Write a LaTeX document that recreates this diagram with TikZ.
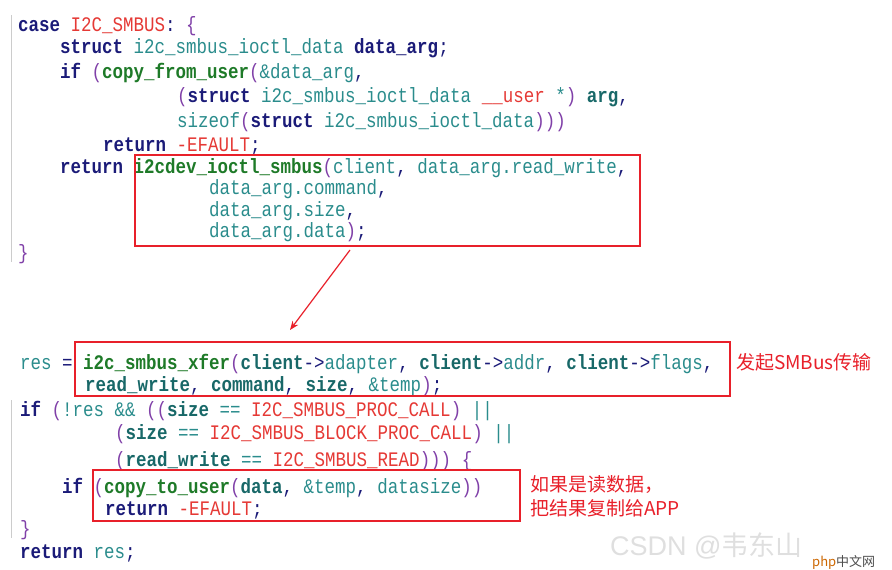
\documentclass[tikz,border=0pt]{standalone}
\usepackage{fontspec}
\usepackage{graphicx}
\usetikzlibrary{arrows.meta}
\setmonofont{Liberation Mono}
\newfontfamily\cjk{Noto Sans CJK SC}
\definecolor{kwc}{HTML}{1B1B78}
\definecolor{fnc}{HTML}{1E7A28}
\definecolor{idc}{HTML}{2A8C8C}
\definecolor{vbc}{HTML}{186868}
\definecolor{mcc}{HTML}{E53935}
\definecolor{pnc}{HTML}{8040A8}
\definecolor{boxc}{HTML}{E8202A}
\newcommand{\kw}[1]{\textcolor{kwc}{\bfseries #1}}
\newcommand{\fn}[1]{\textcolor{fnc}{\bfseries #1}}
\newcommand{\idn}[1]{\textcolor{idc}{#1}}
\newcommand{\vb}[1]{\textcolor{vbc}{\bfseries #1}}
\newcommand{\mcr}[1]{\textcolor{mcc}{#1}}
\newcommand{\pn}[1]{\textcolor{pnc}{#1}}
\newcommand{\tall}[1]{\scalebox{1}[1.18]{#1}}
\begin{document}
\begin{tikzpicture}[x=1pt,y=-1pt,
  code/.style={anchor=base west,inner sep=0pt,font=\ttfamily\fontsize{17.5}{20}\selectfont,text=kwc},
  redbox/.style={draw=boxc,line width=1.4pt},
  note/.style={anchor=base west,inner sep=0pt,text=boxc,font=\cjk\fontsize{19}{22}\selectfont}]
\useasboundingbox (0,0) rectangle (892,570);
\draw[gray!40,line width=0.6pt] (11,15)--(11,262) (11,400)--(11,538);
% top code
\node[code] (l1) at (18,31) {\tall{\kw{case} \mcr{I2C\_SMBUS}: \pn{\{}}};
\node[code] (l2) at (60,53) {\tall{\kw{struct} \idn{i2c\_smbus\_ioctl\_data} \kw{data\_arg};}};
\node[code] (l3) at (60,78) {\tall{\kw{if} \pn{(}\fn{copy\_from\_user}\pn{(}\idn{\&data\_arg},}};
\node[code] (l4) at (177,102) {\tall{\pn{(}\kw{struct} \idn{i2c\_smbus\_ioctl\_data} \mcr{\_\_user} \idn{*}\pn{)} \vb{arg},}};
\node[code] (l5) at (177,127) {\tall{\idn{sizeof}\pn{(}\kw{struct} \idn{i2c\_smbus\_ioctl\_data}\pn{)))}}};
\node[code] (l6) at (103,151) {\tall{\kw{return} \mcr{-EFAULT};}};
\node[code] (l7) at (60,173) {\tall{\kw{return} \fn{i2cdev\_ioctl\_smbus}\pn{(}\idn{client}, \idn{data\_arg.read\_write},}};
\node[code] (l8) at (209,194) {\tall{\idn{data\_arg.command},}};
\node[code] (l9) at (209,216) {\tall{\idn{data\_arg.size},}};
\node[code] (l10) at (209,237) {\tall{\idn{data\_arg.data}\pn{)};}};
\node[code] (l11) at (18,259) {\tall{\pn{\}}}};
% bottom code
\node[code] (b1) at (20,369) {\tall{\idn{res} = \fn{i2c\_smbus\_xfer}\pn{(}\vb{client}->\idn{adapter}, \vb{client}->\idn{addr}, \vb{client}->\idn{flags},}};
\node[code] (b2) at (85,391) {\tall{\vb{read\_write}, \vb{command}, \vb{size}, \idn{\&temp}\pn{)};}};
\node[code] (b3) at (20,416) {\tall{\kw{if} \pn{(}\idn{!res \&\&} \pn{((}\vb{size} \idn{==} \mcr{I2C\_SMBUS\_PROC\_CALL}\pn{)} \idn{||}}};
\node[code] (b4) at (115,439) {\tall{\pn{(}\vb{size} \idn{==} \mcr{I2C\_SMBUS\_BLOCK\_PROC\_CALL}\pn{)} \idn{||}}};
\node[code] (b5) at (115,466) {\tall{\pn{(}\vb{read\_write} \idn{==} \mcr{I2C\_SMBUS\_READ}\pn{)))} \pn{\{}}};
\node[code] (b6) at (62,493) {\tall{\kw{if} \pn{(}\fn{copy\_to\_user}\pn{(}\vb{data}, \idn{\&temp}, \idn{datasize}\pn{))}}};
\node[code] (b7) at (105,515) {\tall{\kw{return} \mcr{-EFAULT};}};
\node[code] (b8) at (20,535) {\tall{\pn{\}}}};
\node[code] (b9) at (20,558) {\tall{\kw{return} \idn{res};}};
% boxes
\draw[redbox] (135,155) rectangle (640,246);
\coordinate (a1) at (350,250);
\coordinate (a2) at (290,330);
\draw[boxc,line width=1.2pt,-{Stealth[length=9pt,width=7pt]}] (a1)--(a2);
\draw[redbox] (75,342) rectangle (730,396);
\draw[redbox] (93,470) rectangle (520,521);
% notes
\node[note] (n1) at (736,369) {发起SMBus传输};
\node[note] (n2) at (530,491) {如果是读数据，};
\node[note] (n3) at (530,515) {把结果复制给APP};
% watermark
\node[anchor=base west,inner sep=0pt,text=gray!25,font=\fontspec{Liberation Sans}\fontsize{27}{30}\selectfont] (wm) at (610,555) {CSDN @\cjk 韦东山};
\node[anchor=base west,inner sep=0pt,text=black!70,font=\cjk\fontsize{13}{14}\selectfont] (wm2) at (812,566) {\textcolor{orange!80!black}{php}中文网};
\end{tikzpicture}
\end{document}
